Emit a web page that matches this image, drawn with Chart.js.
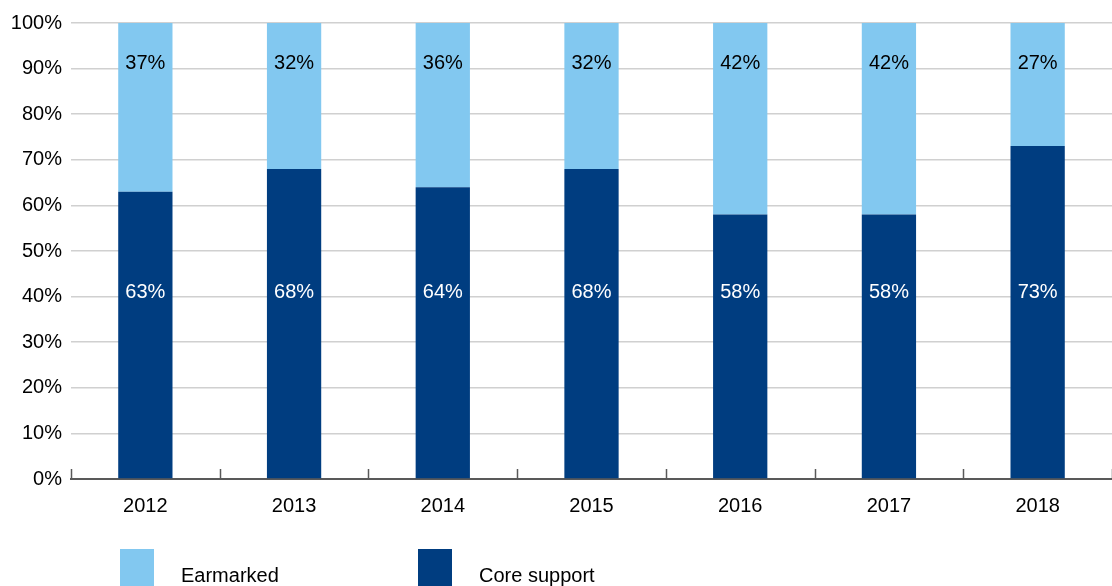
<!DOCTYPE html>
<html>
<head>
<meta charset="utf-8">
<script src="https://cdn.jsdelivr.net/npm/chart.js@4/dist/chart.umd.min.js"></script>
<style>
  html, body { margin: 0; padding: 0; background: #fff; }
</style>
</head>
<body>
<canvas id="canvas1" width="1112" height="586"></canvas>
<script>
var years = ['2012', '2013', '2014', '2015', '2016', '2017', '2018'];

var coreSupport = [63, 68, 64, 68, 58, 58, 73];

var earmarked = [37, 32, 36, 32, 42, 42, 27];

var yTicks = [0, 10, 20, 30, 40, 50, 60, 70, 80, 90, 100];

var dark = '#003d80';
var light = '#82c8f0';

// labels sit at fixed heights in the original, not centred in the segments
var inBarLabels = {
	id: 'inBarLabels',
	afterDatasetsDraw: function(chart) {
		var ctx = chart.ctx, x = chart.scales.x, y = chart.scales.y;
		ctx.save();
		ctx.font = '20px "Liberation Sans", Arial, sans-serif';
		ctx.textAlign = 'center';
		ctx.textBaseline = 'middle';
		chart.data.datasets.forEach(function(ds, di) {
			var meta = chart.getDatasetMeta(di);
			var yPos = di === 0 ? y.getPixelForValue(41) : y.getPixelForValue(91.2);
			ctx.fillStyle = di === 0 ? '#ffffff' : '#000000';
			meta.data.forEach(function(bar, i) {
				ctx.fillText(ds.data[i] + '%', bar.x, yPos);
			});
		});
		ctx.restore();
	}
};

// upward tick marks between categories + bottom legend
var axisAndLegend = {
	id: 'axisAndLegend',
	afterDraw: function(chart) {
		var ctx = chart.ctx, x = chart.scales.x, area = chart.chartArea;
		ctx.save();
		ctx.strokeStyle = '#595959';
		ctx.lineWidth = 1.5;
		for (var i = 0; i <= years.length; i++) {
			var px = Math.round(x.getPixelForValue(i - 0.5)) + 0.5;
			ctx.beginPath();
			ctx.moveTo(px, area.bottom);
			ctx.lineTo(px, area.bottom - 10);
			ctx.stroke();
		}
		var items = [
			{ label: 'Earmarked', color: light, x: 120 },
			{ label: 'Core support', color: dark, x: 418 }
		];
		ctx.font = '20px "Liberation Sans", Arial, sans-serif';
		ctx.textBaseline = 'middle';
		ctx.textAlign = 'left';
		items.forEach(function(it) {
			ctx.fillStyle = it.color;
			ctx.fillRect(it.x, 549, 34, 40);
			ctx.fillStyle = '#000';
			ctx.fillText(it.label, it.x + 61, 576);
		});
		ctx.restore();
	}
};

var myChart = {
	type: 'bar',
	data: {
		labels: years,
		datasets: [
			{
				label: 'Core support',
				backgroundColor: dark,
				data: coreSupport,
				categoryPercentage: 1,
				barPercentage: 0.365
			},
			{
				label: 'Earmarked',
				backgroundColor: light,
				data: earmarked,
				categoryPercentage: 1,
				barPercentage: 0.365
			}
		]
	},
	options: {
		responsive: false,
		animation: false,
		layout: { padding: { top: 23, right: 0, bottom: 62, left: 0 } },
		plugins: {
			legend: { display: false },
			tooltip: { enabled: false }
		},
		scales: {
			x: {
				stacked: true,
				grid: { display: false, drawTicks: false },
				border: { display: true, color: '#595959', width: 2 },
				ticks: { color: '#000', font: { size: 20 }, padding: 15 },
				afterFit: function(scale) { scale.height = 45; }
			},
			y: {
				stacked: true,
				min: 0,
				max: 100,
				afterBuildTicks: function(scale) {
					scale.ticks = yTicks.map(function(v) { return { value: v }; });
				},
				grid: { color: '#d0d0d0', lineWidth: 1.5, drawTicks: false },
				border: { display: false },
				ticks: {
					color: '#000',
					font: { size: 20 },
					padding: 9,
					callback: function(v) { return v + '%'; }
				},
				afterFit: function(scale) { scale.width = 71; }
			}
		}
	},
	plugins: [inBarLabels, axisAndLegend]
};

window.onload = function() {
	Chart.defaults.font.family = '"Liberation Sans", Arial, sans-serif';
	var ctx = document.getElementById('canvas1').getContext('2d');
	new Chart(ctx, myChart);
};
</script>
</body>
</html>
